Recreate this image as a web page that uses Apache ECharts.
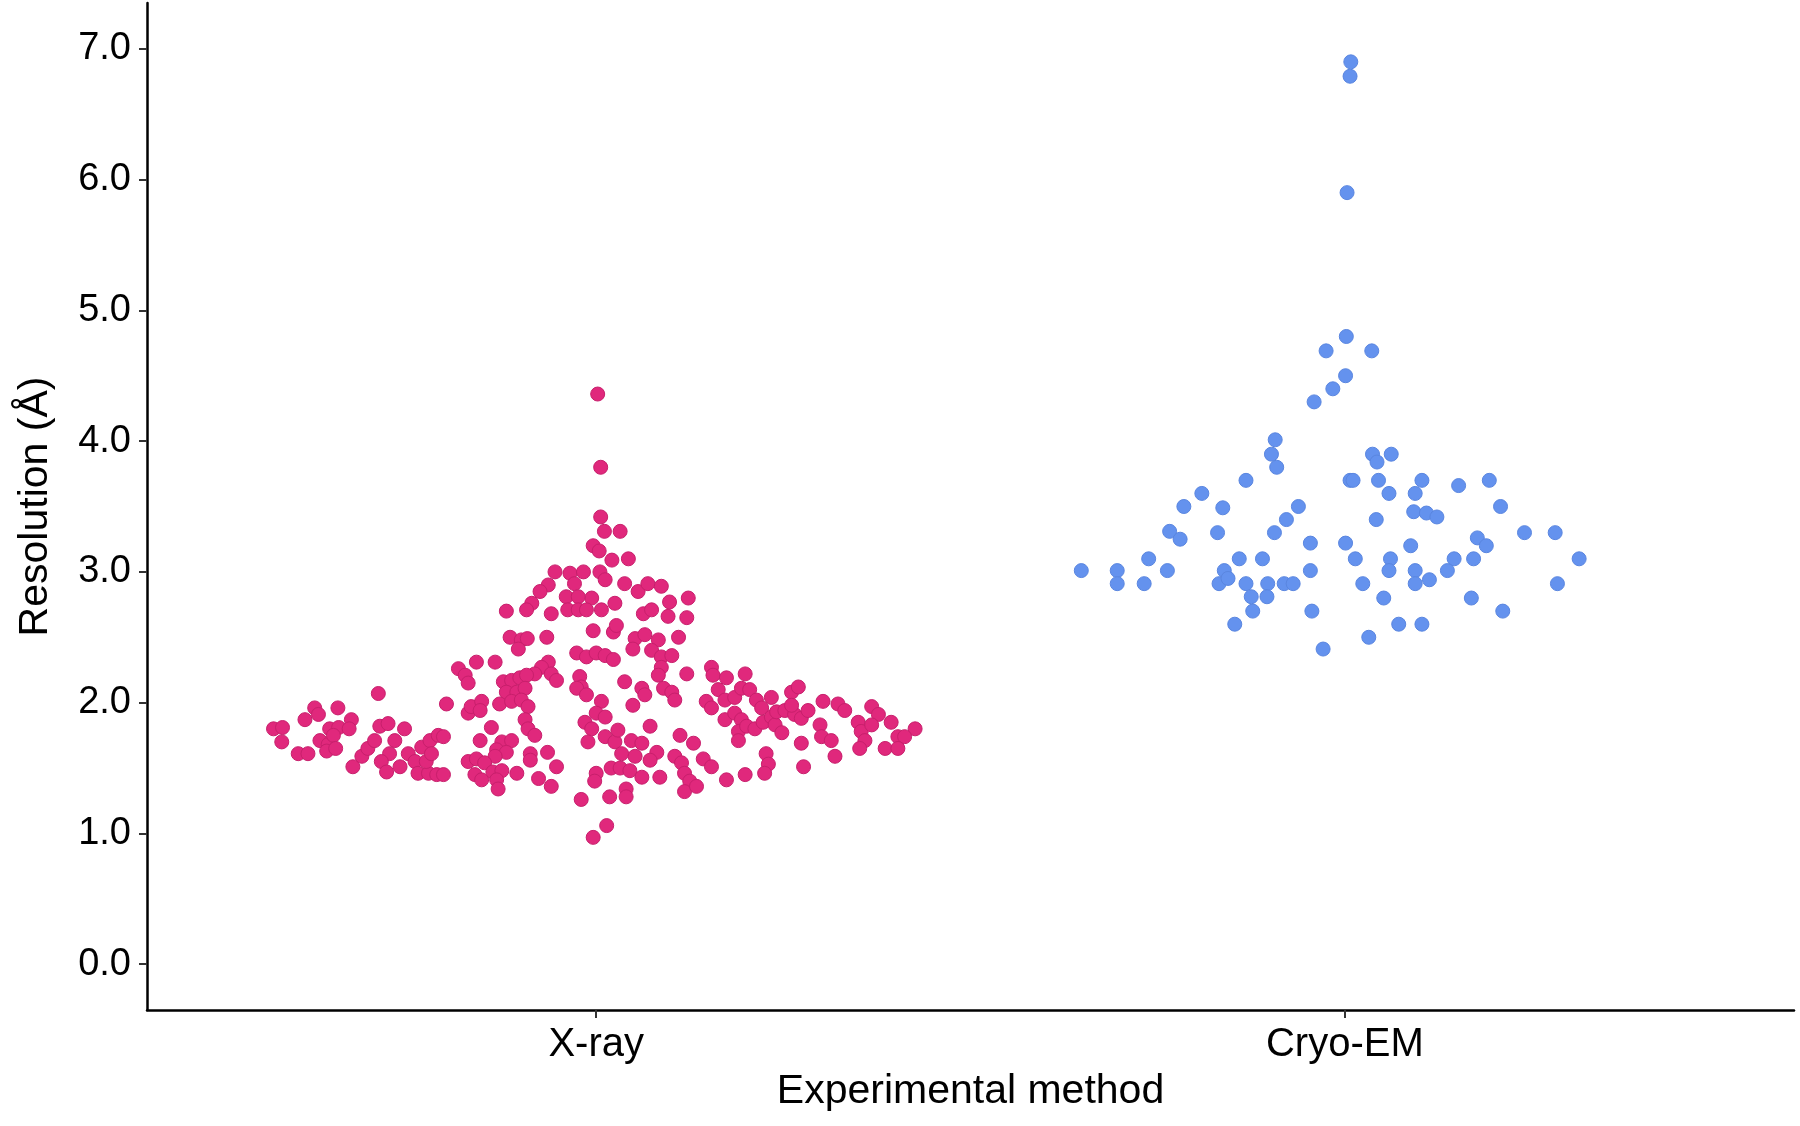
<!DOCTYPE html>
<html>
<head>
<meta charset="utf-8">
<script src="https://cdn.jsdelivr.net/npm/echarts@6/dist/echarts.min.js"></script>
<style>
  html, body { margin: 0; padding: 0; background: #fff; }
  #beeswarm { width: 1800px; height: 1126px; }
</style>
</head>
<body>
<div id="beeswarm"></div>
<script>
// categories on the x axis (placed at 1 and 2)
const methods = ["X-ray", "Cryo-EM"];
const yTicks = [0, 1, 2, 3, 4, 5, 6, 7];

// [horizontal jitter from category centre, resolution in Å]
const xrayPoints = [
  [-0.431,1.80],[-0.419,1.81],[-0.420,1.70],[-0.389,1.87],[-0.376,1.96],[-0.371,1.91],[-0.345,1.96],
  [-0.398,1.61],[-0.385,1.61],[-0.356,1.80],[-0.344,1.81],[-0.369,1.71],[-0.358,1.68],[-0.351,1.75],
  [-0.360,1.63],[-0.348,1.65],[-0.327,1.87],[-0.330,1.80],[-0.291,2.07],[-0.289,1.82],[-0.278,1.84],
  [-0.325,1.51],[-0.313,1.59],[-0.305,1.65],[-0.296,1.71],[-0.269,1.71],[-0.276,1.61],[-0.287,1.55],
  [-0.280,1.47],[-0.262,1.51],[-0.256,1.80],[-0.251,1.61],[-0.242,1.55],[-0.233,1.66],[-0.222,1.71],
  [-0.211,1.75],[-0.238,1.46],[-0.224,1.46],[-0.213,1.45],[-0.227,1.55],[-0.220,1.61],
  [0.002,4.36],[0.006,3.80],[0.006,3.42],[0.011,3.31],[0.032,3.31],[-0.004,3.20],[0.004,3.16],
  [0.021,3.09],[0.043,3.10],
  [-0.055,3.00],[-0.064,2.90],[-0.075,2.85],[-0.086,2.76],[-0.093,2.71],[-0.120,2.70],[-0.060,2.68],
  [-0.040,2.81],[-0.115,2.50],[-0.100,2.48],[-0.104,2.41],[-0.092,2.49],[-0.066,2.50],[-0.184,2.26],
  [-0.175,2.21],[-0.171,2.15],[-0.160,2.31],[-0.135,2.31],[-0.064,2.31],[-0.073,2.27],[-0.082,2.22],
  [-0.060,2.22],[-0.053,2.17],[-0.124,2.16],[-0.113,2.17],[-0.102,2.19],[-0.093,2.21],[-0.120,2.08],
  [-0.106,2.08],[-0.095,2.11],[-0.129,1.99],[-0.113,2.01],[-0.100,2.02],[-0.091,1.97],[-0.200,1.99],
  [-0.171,1.92],[-0.167,1.97],[-0.153,2.01],[-0.155,1.94],[-0.095,1.87],[-0.091,1.80],[-0.082,1.75],
  [-0.140,1.81],[-0.155,1.71],[-0.204,1.74],[-0.126,1.70],[-0.113,1.71],[-0.133,1.64],[-0.120,1.62],
  [-0.135,1.59],[-0.088,1.61],[-0.088,1.56],[-0.065,1.62],[-0.053,1.51],[-0.171,1.55],[-0.160,1.57],
  [-0.149,1.54],[-0.162,1.45],[-0.153,1.41],[-0.138,1.47],[-0.126,1.48],[-0.133,1.41],[-0.106,1.46],
  [-0.131,1.34],[-0.077,1.42],[-0.060,1.36],[-0.204,1.45],[-0.035,2.99],[-0.038,2.71],
  [-0.017,3.00],[0.005,3.00],[0.012,2.94],[-0.029,2.91],[0.038,2.91],[0.056,2.85],[0.069,2.91],
  [0.087,2.89],[-0.006,2.80],[-0.024,2.81],[0.098,2.77],[0.123,2.80],[0.025,2.76],[0.007,2.71],
  [-0.024,2.71],[-0.013,2.71],[0.063,2.68],[0.074,2.71],[0.096,2.66],[0.121,2.65],[-0.004,2.55],
  [0.023,2.54],[0.027,2.59],[0.052,2.49],[0.065,2.52],[0.083,2.48],[0.110,2.50],[0.049,2.41],
  [0.074,2.40],[0.087,2.35],[0.101,2.36],[-0.026,2.38],[-0.013,2.35],[0.000,2.38],[0.012,2.36],
  [0.023,2.33],[0.087,2.27],[0.083,2.21],[0.121,2.22],
  [-0.022,2.20],[-0.020,2.12],[-0.026,2.11],[-0.013,2.06],[0.038,2.16],[0.061,2.11],[0.065,2.06],
  [0.049,1.98],[0.090,2.11],[0.101,2.08],[0.105,2.02],[0.007,2.01],[0.000,1.92],[0.012,1.89],
  [-0.015,1.85],[-0.006,1.80],[-0.011,1.70],[0.012,1.74],[0.025,1.70],[0.029,1.79],[0.072,1.82],
  [0.047,1.71],[0.061,1.69],[0.112,1.75],[0.130,1.69],[0.034,1.61],[0.052,1.59],[0.081,1.62],
  [0.072,1.56],[0.020,1.50],[0.032,1.50],[0.045,1.48],[0.061,1.43],[0.000,1.46],[-0.002,1.40],
  [0.085,1.43],[0.105,1.59],[0.114,1.54],[0.118,1.46],[0.125,1.40],[0.118,1.32],[0.134,1.36],
  [0.040,1.34],[0.040,1.28],[0.018,1.28],[-0.020,1.26],[0.014,1.06],[-0.004,0.97],
  [0.154,2.27],[0.156,2.21],[0.174,2.19],[0.199,2.22],[0.163,2.10],[0.147,2.01],[0.154,1.96],
  [0.172,2.02],[0.185,2.04],[0.194,2.11],[0.205,2.10],[0.214,2.02],[0.221,1.96],[0.234,2.04],
  [0.261,2.08],[0.270,2.12],[0.172,1.87],[0.185,1.92],[0.194,1.87],[0.190,1.78],[0.190,1.71],
  [0.201,1.82],[0.212,1.80],[0.223,1.85],[0.234,1.89],[0.239,1.83],[0.248,1.77],[0.241,1.93],
  [0.252,1.94],[0.265,1.91],[0.274,1.88],[0.283,1.94],[0.261,1.98],[0.303,2.01],[0.323,1.99],
  [0.332,1.94],[0.299,1.83],[0.301,1.74],[0.314,1.71],[0.319,1.59],[0.274,1.69],[0.277,1.51],
  [0.350,1.85],[0.354,1.78],[0.359,1.71],[0.352,1.65],[0.368,1.97],[0.377,1.91],[0.368,1.83],
  [0.394,1.85],[0.403,1.74],[0.426,1.80],[0.412,1.74],[0.386,1.65],[0.403,1.65],[0.227,1.61],
  [0.230,1.53],[0.225,1.46],[0.199,1.45],[0.174,1.41],[0.143,1.57],[0.154,1.51]
];

const cryoPoints = [
  [0.008,6.90],[0.007,6.79],[0.003,5.90],[0.002,4.80],[-0.025,4.69],[0.036,4.69],[0.001,4.50],
  [-0.016,4.40],[-0.041,4.30],[-0.093,4.01],[-0.098,3.90],[-0.091,3.80],[0.037,3.90],[0.043,3.84],
  [0.062,3.90],[-0.132,3.70],[0.007,3.70],[0.011,3.70],[0.045,3.70],[0.103,3.70],[0.152,3.66],
  [0.193,3.70],[-0.191,3.60],[0.059,3.60],[0.094,3.60],[-0.215,3.50],[-0.163,3.49],[-0.062,3.50],
  [0.208,3.50],[-0.078,3.40],[0.042,3.40],[0.092,3.46],[0.109,3.45],[0.123,3.42],[-0.234,3.31],
  [-0.220,3.25],[-0.170,3.30],[-0.094,3.30],[0.240,3.30],[0.281,3.30],[-0.046,3.22],[0.001,3.22],
  [0.088,3.20],[0.177,3.26],[0.189,3.20],[-0.262,3.10],[-0.141,3.10],[-0.110,3.10],[0.014,3.10],
  [0.061,3.10],[0.146,3.10],[0.172,3.10],[0.313,3.10],[-0.352,3.01],[-0.304,3.01],[-0.237,3.01],
  [-0.161,3.01],[-0.046,3.01],[0.059,3.01],[0.094,3.01],[0.137,3.01],[-0.304,2.91],[-0.268,2.91],
  [-0.168,2.91],[-0.156,2.95],[-0.132,2.91],[-0.103,2.91],[-0.081,2.91],[-0.069,2.91],[0.024,2.91],
  [0.094,2.91],[0.113,2.94],[0.284,2.91],[-0.125,2.81],[-0.104,2.81],[0.052,2.80],[0.169,2.80],
  [-0.123,2.70],[-0.044,2.70],[0.211,2.70],[-0.147,2.60],[0.072,2.60],[0.103,2.60],[0.032,2.50],
  [-0.029,2.41]
];

const xrayColor = "#E0287C";
const cryoColor = "#6492EE";

const chart = echarts.init(document.getElementById("beeswarm"));

const axisFont = {
  fontFamily: "Liberation Sans, Arial, sans-serif",
  color: "#000",
};

chart.setOption({
  animation: false,
  backgroundColor: "#fff",
  grid: {
    left: 147,
    right: 6,
    top: 3,
    bottom: 116,
    outerBoundsMode: "none",
  },
  xAxis: {
    type: "value",
    min: 0.4,
    max: 2.6,
    name: "Experimental method",
    nameLocation: "middle",
    nameGap: 61,
    nameTextStyle: Object.assign({ fontSize: 41 }, axisFont),
    splitLine: { show: false },
    axisLine: { onZero: false, lineStyle: { color: "#000", width: 2.5 } },
    axisTick: {
      customValues: [1, 2],
      length: 8,
      lineStyle: { color: "#333", width: 2 },
    },
    axisLabel: Object.assign({
      customValues: [1, 2],
      fontSize: 40,
      margin: 15,
      formatter: (v) => methods[Math.round(v) - 1],
    }, axisFont),
  },
  yAxis: {
    type: "value",
    min: -0.35,
    max: 7.35,
    name: "Resolution (Å)",
    nameLocation: "middle",
    nameGap: 91,
    nameTextStyle: Object.assign({ fontSize: 41 }, axisFont),
    splitLine: { show: false },
    axisLine: { show: true, onZero: false, lineStyle: { color: "#000", width: 2.5 } },
    axisTick: {
      show: true,
      customValues: yTicks,
      length: 8,
      lineStyle: { color: "#333", width: 2 },
    },
    axisLabel: Object.assign({
      customValues: yTicks,
      fontSize: 38,
      margin: 16,
      formatter: (v) => v.toFixed(1),
    }, axisFont),
  },
  series: [
    {
      name: methods[0],
      type: "scatter",
      symbolSize: 14,
      itemStyle: { color: xrayColor, opacity: 1, borderColor: "#C81F6C", borderWidth: 1 },
      data: xrayPoints.map((p) => [1 + p[0], p[1]]),
    },
    {
      name: methods[1],
      type: "scatter",
      symbolSize: 14,
      itemStyle: { color: cryoColor, opacity: 1, borderColor: "#5A86E0", borderWidth: 1 },
      data: cryoPoints.map((p) => [2 + p[0], p[1]]),
    },
  ],
});
</script>
</body>
</html>
